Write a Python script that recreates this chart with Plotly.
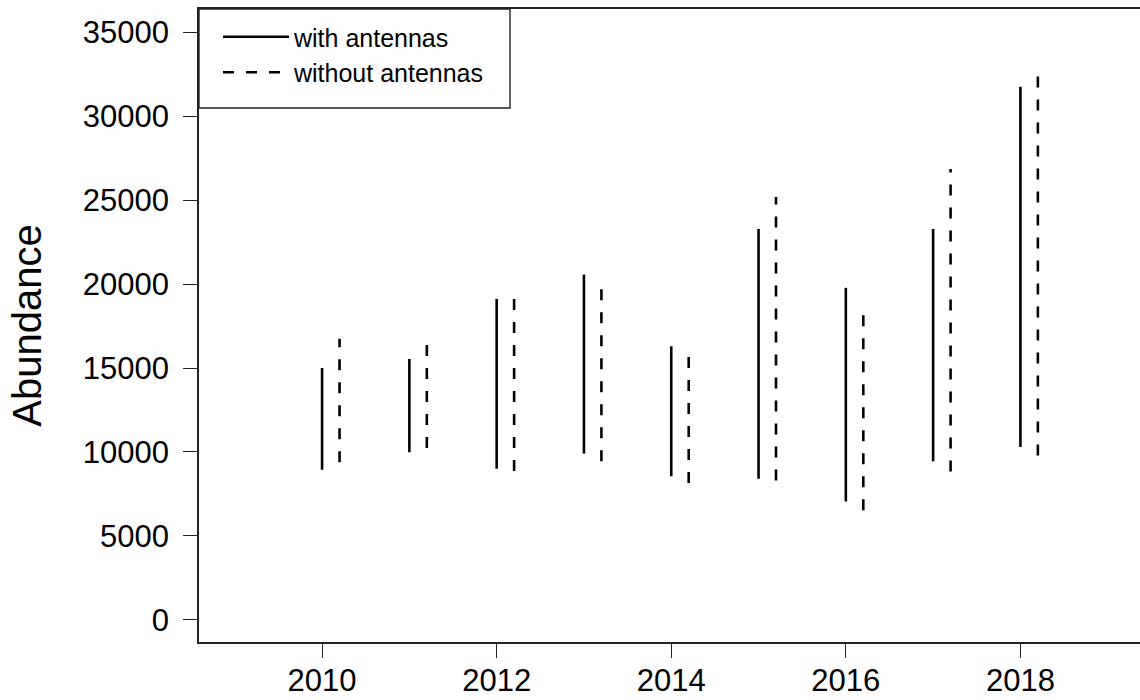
import plotly.graph_objects as go

# Survey years and abundance ranges (low / high) per method
years = [2010, 2011, 2012, 2013, 2014, 2015, 2016, 2017, 2018]
with_low = [8940, 9980, 9000, 9900, 8550, 8400, 7050, 9440, 10300]
with_high = [15000, 15540, 19120, 20570, 16300, 23290, 19780, 23290, 31760]
without_low = [9380, 10240, 8860, 9440, 8150, 8300, 6520, 8840, 9780]
without_high = [16740, 16460, 19180, 19780, 15800, 25200, 18250, 26870, 32440]
offset = 0.2  # horizontal shift of the "without" segments

y_ticks = [0, 5000, 10000, 15000, 20000, 25000, 30000, 35000]
y_labels = [str(v) for v in y_ticks]
x_ticks = [2010, 2012, 2014, 2016, 2018]
x_labels = [str(v) for v in x_ticks]


def segments(xs, lo, hi, dx=0.0):
    sx, sy = [], []
    for x, a, b in zip(xs, lo, hi):
        sx += [x + dx, x + dx, None]
        sy += [a, b, None]
    return sx, sy


FONT = "Liberation Sans, Arial, sans-serif"

fig = go.Figure()
wx, wy = segments(years, with_low, with_high)
fig.add_trace(go.Scatter(x=wx, y=wy, mode="lines", name="with antennas",
                         line=dict(color="black", width=2.6)))
ox, oy = segments(years, without_low, without_high, offset)
fig.add_trace(go.Scatter(x=ox, y=oy, mode="lines", name="without antennas",
                         line=dict(color="black", width=2.6, dash="11px,12px")))

# legend frame
W, H = 1140, 700
ml, mr, mt, mb = 199, 0, 9, 58
pw, ph = W - ml - mr, H - mt - mb
fig.add_shape(type="rect", xref="paper", yref="paper",
              x0=0, x1=(510 - ml) / pw, y0=1 - (108 - mt) / ph, y1=1,
              line=dict(color="#222", width=1.4), fillcolor="white", layer="below")

fig.update_layout(
    width=W, height=H,
    margin=dict(l=ml, r=mr, t=mt, b=mb),
    paper_bgcolor="white", plot_bgcolor="white",
    font=dict(family=FONT, color="black"),
    showlegend=True,
    legend=dict(x=19 / pw, y=0.992, xanchor="left", yanchor="top",
                bgcolor="rgba(0,0,0,0)", borderwidth=0,
                font=dict(size=25, family=FONT), itemwidth=66,
                tracegroupgap=0),
)
fig.update_xaxes(
    range=[2008.59, 2019.37], tickvals=x_ticks, ticktext=x_labels,
    ticks="outside", ticklen=14, tickwidth=1.2, tickcolor="#222",
    tickfont=dict(size=31), ticklabelstandoff=-4,
    showline=True, linecolor="#222", linewidth=1.5, mirror=True,
    showgrid=False, zeroline=False, automargin=False,
)
fig.update_yaxes(
    range=[-1330, 36400], tickvals=y_ticks, ticktext=y_labels,
    ticks="outside", ticklen=14, tickwidth=1.2, tickcolor="#222",
    tickfont=dict(size=31), ticklabelstandoff=8,
    showline=True, linecolor="#222", linewidth=1.5, mirror=False,
    showgrid=False, zeroline=False, automargin=False,
    title=dict(text="Abundance", font=dict(size=40), standoff=29),
)

fig.write_html("out.html")
